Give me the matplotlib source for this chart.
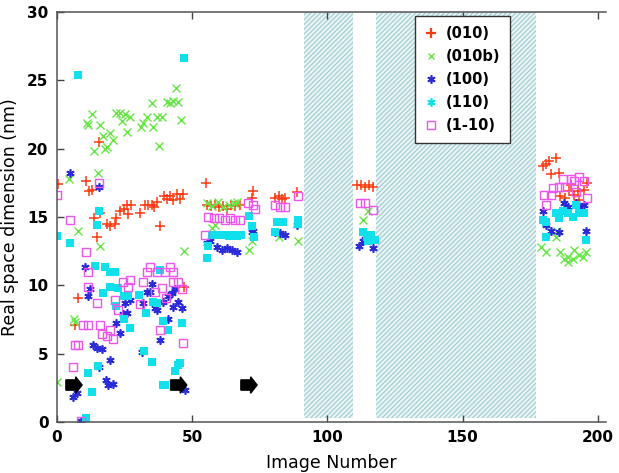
import numpy as np
import matplotlib
matplotlib.use('Agg')
import matplotlib.pyplot as plt
from matplotlib.lines import Line2D

# (010) red plus
x010 = [0.4, 10.7, 12, 13, 15.5, 13.8, 14.8, 16, 18.4, 19.6, 21.5, 22, 23.3, 24.8, 26, 27.3, 26.2,
        30.7, 32.6, 33.8, 35, 36, 37, 38, 39.4, 40.6, 41.8, 43, 44.3, 45.5, 46.5, 7.9, 6.7, 47,
        55, 55.5, 57, 58.5, 60, 61.5, 63, 64.5, 66, 67.5, 72.6, 72.2, 80.7, 82, 83.2, 84.4, 88.9,
        111, 112.5, 114, 115.5, 117,
        179.6, 180.7, 182, 184.4, 182.6, 185.6, 186, 188, 189.5, 191, 192.5, 194.8, 196, 190, 193]
y010 = [17.4, 17.6, 16.9, 17.0, 20.5, 14.9, 13.5, 15.3, 14.5, 14.3, 14.5, 14.9, 15.4, 15.6, 15.9, 15.9, 15.2,
        15.3, 15.9, 15.9, 15.9, 15.7, 16.1, 14.3, 16.5, 16.3, 16.5, 16.2, 16.7, 16.3, 16.7, 9.1, 7.1, 9.9,
        17.5, 15.9, 15.8, 15.9, 15.7, 15.8, 15.6, 15.9, 15.8, 15.9, 16.9, 16.4, 16.4, 16.5, 16.3, 16.4, 16.8,
        17.3, 17.3, 17.2, 17.3, 17.2,
        18.7, 18.9, 19.1, 19.3, 18.1, 18.2, 16.5, 16.4, 16.9, 16.6, 16.9, 17.0, 17.5, 17.3, 16.2]

# (010b) green cross
x010b = [13, 11, 11.5, 16, 17, 19.6, 20.7, 18.5, 17.8, 13.7, 21.8, 23.3, 25.2, 24, 27, 26, 31, 31.8,
         33.3, 35.6, 35.2, 37, 38.9, 37.8, 40.7, 41.9, 43, 44.8, 44, 45.9,
         4.6, 15, 7.8, 16, 47, 6.7, 6.2, 0,
         55.5, 57.5, 59.5, 61.5, 63.5, 65.5, 66.7, 58.5, 57.5, 72, 71, 82, 89,
         115, 113,
         179, 180.7, 186, 189, 191, 193, 194.4, 195.6, 190.7, 187.4, 185, 184.5, 182.6, 188.9]
y010b = [22.5, 21.9, 21.7, 21.7, 20.9, 21.1, 20.6, 20.1, 20.0, 19.8, 22.6, 22.6, 22.5, 22.0, 22.3, 21.2, 21.6, 21.9,
         22.3, 21.6, 23.3, 22.3, 22.3, 20.2, 23.4, 23.3, 23.5, 23.4, 24.4, 22.1,
         17.8, 18.2, 14.0, 12.9, 12.5, 7.3, 7.5, 2.9,
         16.0, 15.8, 16.1, 15.7, 15.9, 16.0, 16.1, 14.4, 14.2, 13.2, 12.6, 13.5, 13.2,
         15.4, 14.8,
         12.8, 12.4, 12.4, 12.1, 12.6, 12.2, 12.1, 12.4, 11.9, 11.9, 14.0, 13.5, 13.9, 11.7]

# (100) blue asterisk
x100 = [4.8, 15.6, 10.4, 12.2, 11.5, 13.4, 14.7, 16.6, 15.6, 19.6, 18.2, 19, 20.8, 5.8, 7.3, 9,
        22, 23.3, 24.3, 25.2, 26, 27, 31.4, 32, 33.2, 35, 34.4, 36.3, 37, 38.1, 39.3, 41, 41,
        42.5, 43.7, 43, 44.8, 46.2, 47.4, 45.5,
        55.5, 56.7, 59, 61, 63, 64.8, 66.7, 72.2, 72.6, 80.7, 82.6, 84.4, 88.9,
        113, 114, 117, 111.5,
        179.6, 187.4, 189, 191.8, 193, 194.8, 180.7, 182.6, 185.6, 195.6]
y100 = [18.2, 17.2, 11.3, 9.7, 9.2, 5.6, 5.4, 5.3, 4.0, 4.5, 3.1, 2.7, 2.8, 1.8, 2.1, 0.1,
        7.2, 6.5, 7.9, 8.7, 8.0, 8.9, 5.1, 8.7, 9.5, 10.1, 9.5, 8.3, 8.2, 6.0, 8.8, 7.5, 9.2,
        9.4, 9.7, 8.4, 8.8, 8.3, 2.3, 2.6,
        13.1, 13.2, 12.8, 12.6, 12.7, 12.6, 12.4, 13.9, 14.0, 13.9, 13.8, 13.7, 14.4,
        13.2, 13.4, 12.7, 12.9,
        15.4, 16.0, 15.7, 16.0, 15.7, 15.9, 14.4, 14.0, 13.9, 14.0]

# (110) cyan filled square
x110 = [7.9, 47, 15.5, 14.7, 0, 4.8, 14.1, 17.2, 17.8, 19.6, 21.5, 19.6, 22.7, 22, 24.8, 26.3, 24.8,
        27, 30.4, 32.2, 35.2, 33, 35.6, 37, 38.1, 39.2, 41.1, 44.8, 43.7, 45.5, 46.2, 39.3, 15.2,
        11.5, 12.9, 10.7, 40,
        55.5, 56, 57.5, 59, 60.5, 62, 63.5, 65, 66.5, 68, 71, 72, 73, 81.5, 83.7, 80.7, 89, 89,
        113, 114.5, 116, 117.5, 115,
        179.6, 181, 184.4, 187, 189, 191.8, 193, 194.8, 180.7, 195.6, 185.5, 190.7]
y110 = [25.4, 26.6, 15.4, 14.4, 13.6, 13.1, 11.4, 9.4, 11.3, 11.0, 11.0, 9.9, 9.8, 8.5, 9.2, 9.2, 7.5,
        6.9, 9.3, 5.2, 4.4, 8.0, 8.8, 8.7, 11.1, 7.4, 6.7, 4.2, 3.7, 4.3, 7.2, 2.7, 4.1,
        3.6, 2.2, 0.3, 2.7,
        12.0, 12.9, 13.7, 13.7, 13.7, 13.7, 13.6, 13.7, 13.6, 13.7, 15.1, 14.3, 13.5, 14.6, 14.6, 13.9, 14.8, 14.5,
        13.9, 13.5, 13.7, 13.3, 13.2,
        14.8, 14.6, 15.3, 15.4, 15.3, 15.9, 15.3, 15.3, 13.5, 13.3, 14.9, 15.0]

# (1-10) magenta open square
x1m10 = [0, 4.8, 15.6, 10.7, 11.5, 11.5, 14.8, 9.6, 11.5, 16, 16.6, 18.5, 19.6, 20.8, 6.7, 7.9, 6,
         9, 21.5, 22.6, 24.4, 26.3, 27, 31.9, 30.7, 33.3, 34.4, 36.3, 37, 38.9, 40, 41.8, 43,
         38.1, 43, 44.8, 46.3, 46.7, 40.3,
         56, 58, 60, 62, 64, 66, 67.8, 54.8, 70.7, 72.5, 73.3, 80.7, 82.6, 84.4, 89,
         112, 114, 116.7,
         180, 182.6, 180.7, 185.6, 188, 187, 190, 193, 194.8, 191.8, 196, 191, 183.3]
y1m10 = [16.6, 14.8, 17.5, 12.4, 11.0, 9.9, 8.7, 7.1, 7.1, 7.1, 6.4, 6.3, 6.7, 6.1, 5.6, 5.6, 4.0,
         0.1, 8.9, 8.2, 10.2, 9.9, 10.4, 10.2, 8.6, 11.0, 11.3, 9.5, 11.0, 9.8, 11.0, 11.3, 11.0,
         6.7, 10.2, 10.2, 9.7, 5.8, 9.1,
         15.0, 14.9, 14.9, 14.8, 14.9, 14.8, 14.8, 13.7, 16.0, 15.9, 15.6, 15.9, 15.7, 15.7, 16.5,
         16.0, 16.0, 15.5,
         16.6, 16.6, 15.9, 17.2, 17.2, 17.8, 17.8, 17.9, 17.6, 16.8, 16.4, 17.6, 17.1]

# shaded image ranges and arrow positions
gaps = [(91.5, 109.3), (118.1, 177.0)]
arrow_x = [3.3, 42.0, 68.0]
arrow_y = 2.7

red = '#ff3a10'
green = '#66e644'
blue = '#2a2ad8'
cyan = '#10e0ec'
pink = '#ee55ee'

plt.rcParams['hatch.linewidth'] = 0.9
fig = plt.figure(figsize=(6.19, 4.73), dpi=100)
ax = fig.add_axes([0.092, 0.108, 0.887, 0.867])

for a, b in gaps:
    ax.axvspan(a, b, ymin=0.01, ymax=1.0, facecolor='#eaf5f6', edgecolor='#a3ced2',
               hatch='///////', linewidth=0, zorder=0)

ax.plot(x010, y010, '+', color=red, ms=7.5, mew=1.1, ls='none')
ax.plot(x010b, y010b, 'x', color=green, ms=6, mew=1.0, ls='none')
ax.plot(x100, y100, marker=(6, 2, 0), color=blue, ms=6, mew=1.2, ls='none')
ax.plot(x110, y110, 's', color=cyan, ms=5.5, mew=0, ls='none')
ax.plot(x1m10, y1m10, 's', mfc='none', mec=pink, ms=6, mew=1.0, ls='none')

for xa in arrow_x:
    ax.arrow(xa, arrow_y, 3.6, 0, width=0.75, head_width=1.2, head_length=2.4,
             length_includes_head=False, fc='black', ec='black', zorder=5)

ax.set_xlim(0, 203)
ax.set_ylim(0, 30)
ax.set_xticks([0, 50, 100, 150, 200])
ax.set_yticks([0, 5, 10, 15, 20, 25, 30])
ax.tick_params(direction='in', length=5, width=1, color='#444444', top=True,
               labelsize=11, pad=6)
for lab in ax.get_xticklabels() + ax.get_yticklabels():
    lab.set_fontweight('bold')
ax.spines['right'].set_visible(False)
for s in ['left', 'top', 'bottom']:
    ax.spines[s].set_color('#555555')
    ax.spines[s].set_linewidth(1.1)

ax.set_xlabel('Image Number', fontsize=12.5, labelpad=6)
ax.set_ylabel('Real space dimension (nm)', fontsize=12.5, labelpad=6)

handles = [
    Line2D([], [], ls='none', marker='+', color=red, ms=7, mew=1.6),
    Line2D([], [], ls='none', marker='x', color=green, ms=5, mew=1.0),
    Line2D([], [], ls='none', marker=(6, 2, 0), color=blue, ms=6, mew=1.2),
    Line2D([], [], ls='none', marker=(6, 2, 0), color=cyan, ms=6, mew=1.2),
    Line2D([], [], ls='none', marker='s', mfc='none', mec=pink, ms=6, mew=1.0),
]
labels = ['(010)', '(010b)', '(100)', '(110)', '(1-10)']
leg = ax.legend(handles, labels, loc='upper left', bbox_to_anchor=(0.652, 0.99),
                frameon=True, fancybox=False, edgecolor='#333333', framealpha=1,
                prop={'weight': 'bold', 'size': 10.5}, handlelength=0.8,
                handletextpad=0.6, labelspacing=0.55, borderpad=0.7, borderaxespad=0)
leg.get_frame().set_linewidth(1.0)

fig.savefig('out.png', dpi=100)
